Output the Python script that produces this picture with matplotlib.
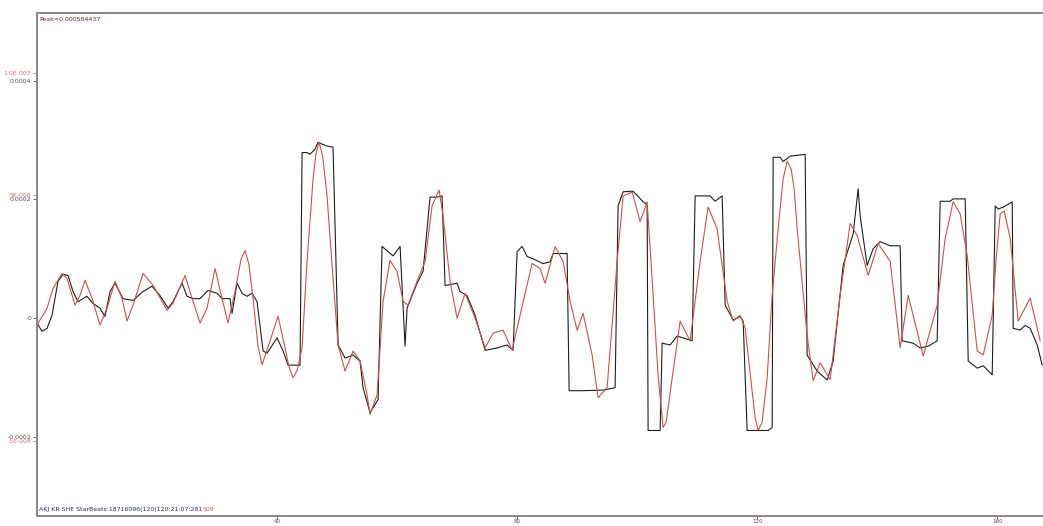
import numpy as np
import matplotlib
matplotlib.use("Agg")
import matplotlib.pyplot as plt

# black trace (left scale), x in samples
black_x = [0.0, 0.83, 1.67, 2.5, 3.5, 4.33, 5.17, 6.0, 6.83, 8.33, 9.33, 10.5, 11.33, 12.17, 13.0,
           14.33, 16.0, 17.67, 19.17, 20.5, 21.83, 22.67, 24.17, 25.0, 26.0, 27.17, 28.5, 30.0,
           30.83, 32.17, 32.5, 33.33, 34.17, 35.0, 35.83, 36.67, 37.67, 38.33, 40.0, 41.0, 41.83,
           43.83, 44.17, 45.0, 45.5, 46.33, 46.83, 48.33, 49.33, 50.17, 51.33, 52.67, 53.83, 54.33,
           55.5, 56.83, 57.5, 59.33, 60.5, 61.0, 61.33, 61.67, 63.33, 64.33, 65.5, 66.67, 67.5,
           68.0, 70.0, 70.5, 71.67, 73.0, 74.67, 76.67, 78.33, 79.33, 80.0, 80.83, 81.67, 82.67,
           84.33, 85.5, 86.0, 88.33, 88.67, 91.0, 94.33, 96.33, 96.83, 97.67, 99.33, 101.0, 101.67,
           101.83, 103.83, 104.17, 105.5, 106.67, 109.17, 109.67, 112.17, 113.0, 114.17, 114.67,
           116.0, 117.17, 117.67, 118.33, 121.83, 122.5, 122.67, 123.83, 124.33, 125.5, 128.0,
           128.33, 130.0, 131.67, 132.67, 134.33, 136.0, 136.83, 137.17, 138.33, 139.33, 140.5,
           142.17, 143.83, 144.17, 146.0, 147.17, 148.5, 150.0, 150.5, 152.17, 152.67, 154.67,
           155.17, 156.67, 157.67, 159.17, 159.67, 160.17, 161.0, 162.5, 162.67, 163.83, 164.67,
           165.5, 166.67, 167.5]
black_v = [-0.08, -0.22, -0.17, 0.05, 0.62, 0.74, 0.72, 0.45, 0.28, 0.37, 0.25, 0.17, 0.03, 0.45,
           0.59, 0.33, 0.30, 0.45, 0.54, 0.38, 0.17, 0.28, 0.59, 0.37, 0.33, 0.33, 0.47, 0.42, 0.33,
           0.33, 0.08, 0.59, 0.42, 0.37, 0.42, 0.28, -0.55, -0.59, -0.33, -0.55, -0.79, -0.79, 2.79,
           2.79, 2.76, 2.85, 2.96, 2.90, 2.88, -0.45, -0.67, -0.62, -0.72, -1.17, -1.59, -1.37,
           1.21, 1.05, 1.21, 0.22, -0.47, 0.17, 0.59, 0.79, 2.04, 2.04, 2.06, 0.55, 0.59, 0.45,
           0.38, 0.05, -0.54, -0.50, -0.45, -0.54, 1.12, 1.21, 1.04, 1.00, 0.92, 0.95, 1.09, 1.09,
           -1.22, -1.22, -1.21, -1.17, 1.89, 2.13, 2.14, 1.96, 1.92, -1.89, -1.89, -0.42, -0.45,
           -0.30, -0.38, 2.06, 2.06, 1.97, 2.06, 0.22, -0.03, 0.03, -0.05, -1.89, -1.89, -1.84,
           2.71, 2.71, 2.64, 2.73, 2.76, -0.62, -0.89, -1.04, -0.72, 0.89, 1.42, 2.18, 1.72, 0.89,
           1.17, 1.29, 1.22, 1.22, -0.38, -0.42, -0.50, -0.47, -0.38, 1.97, 1.97, 2.01, 2.01, -0.72,
           -0.84, -0.80, -0.95, 1.89, 1.84, 1.87, 1.96, -0.17, -0.20, -0.12, -0.17, -0.45, -0.79]
black_v = np.array(black_v) * 1e-4

# red trace (second scale)
red_x = [0.0, 1.67, 2.67, 4.17, 5.0, 6.33, 7.17, 8.0, 9.17, 10.5, 11.67, 13.0, 14.17, 15.0, 16.0,
         17.67, 19.33, 21.67, 22.67, 24.67, 25.83, 27.17, 28.33, 29.67, 30.83, 31.83, 33.0, 34.0,
         34.67, 35.3, 36.0, 36.8, 37.5, 38.83, 40.17, 41.33, 42.0, 42.67, 43.4, 44.17, 45.0,
         46.0, 46.5, 47.0, 47.6, 48.33, 49.33, 50.17, 51.33, 52.67, 53.83, 55.0, 55.5, 56.67,
         57.67, 58.83, 60.0, 61.0, 61.83, 63.33, 64.67, 65.83, 67.0, 67.67, 68.83, 70.0, 71.33,
         73.0, 74.67, 76.0, 77.67, 79.17, 80.5, 82.5, 83.83, 84.67, 86.33, 87.67, 88.83, 90.0,
         91.0, 92.5, 93.5, 95.0, 96.67, 97.67, 99.17, 100.5, 101.67, 102.67, 103.5, 104.33,
         104.83, 105.5, 107.17, 108.83, 110.5, 111.83, 113.33, 115.0, 116.0, 117.17, 118.0,
         119.0, 119.67, 120.17, 120.83, 121.67, 122.5, 123.5, 124.33, 125.0, 125.67, 126.17,
         126.67, 128.33, 129.33, 130.5, 132.17, 133.83, 135.5, 136.67, 138.5, 140.17, 142.17,
         143.83, 145.17, 147.67, 150.0, 151.33, 152.67, 153.83, 155.0, 156.67, 157.67, 159.17,
         159.83, 160.5, 161.17, 162.17, 163.5, 165.5, 167.17]
red_v = [-0.28, 0.40, 1.21, 1.82, 1.62, 0.53, 0.93, 1.54, 0.81, -0.28, 0.40, 1.50, 0.81, -0.12,
         0.53, 1.82, 1.34, 0.32, 0.61, 1.74, 0.81, -0.20, 0.40, 2.02, 0.81, -0.20, 1.09, 2.40,
         2.75, 2.20, 0.81, -1.10, -1.90, -0.93, 0.08, -1.21, -2.00, -2.43, -2.10, -1.21, 2.31,
         5.67, 6.70, 7.17, 6.60, 4.98, 1.62, -1.09, -2.15, -1.34, -1.74, -3.12, -3.93, -3.12,
         0.69, 2.35, 1.90, 0.69, 0.53, 1.50, 2.31, 4.57, 5.22, 4.17, 1.50, 0.0, 1.01, 0.0, -1.21,
         -0.61, -0.49, -1.30, 0.12, 2.23, 2.02, 1.42, 2.91, 2.31, 0.69, -0.49, 0.20, -1.50, -3.24,
         -2.83, 2.31, 4.98, 5.14, 3.93, 4.74, 0.93, -2.35, -4.45, -4.25, -3.04, -0.12, -0.93,
         2.31, 4.53, 3.64, 0.69, -0.12, 0.12, -0.40, -2.63, -4.05, -4.57, -4.25, -2.43, 0.93,
         3.64, 5.67, 6.40, 6.07, 5.26, 3.64, -0.69, -2.55, -1.82, -2.51, 0.93, 3.85, 3.36, 1.74,
         3.04, 2.31, -1.21, 0.93, -1.54, 0.53, 3.24, 4.74, 4.25, 2.55, -1.34, -1.50, 0.12, 2.43,
         4.25, 4.37, 3.24, -0.12, 0.81, -0.93]
red_v = np.array(red_v) * 1e-8

peak_text = "Peak=0.000584437"
footer_text = "AKJ KR SHE StarBeats:18716096(120)120:21:07:281"
footer_red = "509"

W, H = 1043, 526
fig = plt.figure(figsize=(W / 100, H / 100), dpi=100)
ax = fig.add_axes([37 / W, 10 / H, 1010 / W, 503 / H])

ax.plot(black_x, black_v, color="#1e1e1e", lw=0.8)
ax.set_xlim(0, 168.3)
ax.set_ylim(-3.33e-4, 5.14e-4)
ax.set_yticks([4e-4, 2e-4, 0, -2e-4])
ax.set_yticklabels(["0.0004", "0.0002", "0", "-0.0002"])
ax.set_xticks([40, 80, 120, 160])
ax.tick_params(axis="y", labelsize=4.5, length=3, width=0.6, colors="#555555", pad=1)
ax.tick_params(axis="x", labelsize=4, length=2, width=0.6, colors="#804040", pad=0.5)

ax2 = ax.twinx()
ax2.plot(red_x, red_v, color="#d0504a", lw=0.8)
ax2.set_ylim(-8.06e-8, 12.43e-8)
ax2.yaxis.tick_left()
ax2.set_yticks([1e-7, 5e-8, -5e-8])
ax2.set_yticklabels(["1.0E-007", "5E-008", "-5E-008"])
ax2.tick_params(axis="y", labelsize=4.5, length=3, width=0.6, colors="#e07070", pad=1)

for a in (ax, ax2):
    for s in a.spines.values():
        s.set_color("#8a8a8a")
        s.set_linewidth(1.4)

ax.text(0.002, 0.993, peak_text, transform=ax.transAxes, fontsize=4.5,
        color="#802020", va="top", ha="left")
t = ax.text(0.002, 0.008, footer_text, transform=ax.transAxes, fontsize=4.5,
            color="#303060", va="bottom", ha="left")
fig.canvas.draw()
bb = t.get_window_extent()
x_end = ax.transAxes.inverted().transform((bb.x1, bb.y0))[0]
ax.text(x_end, 0.008, footer_red, transform=ax.transAxes, fontsize=4.5,
        color="#d06060", va="bottom", ha="left")

fig.savefig("out.png", dpi=100)
